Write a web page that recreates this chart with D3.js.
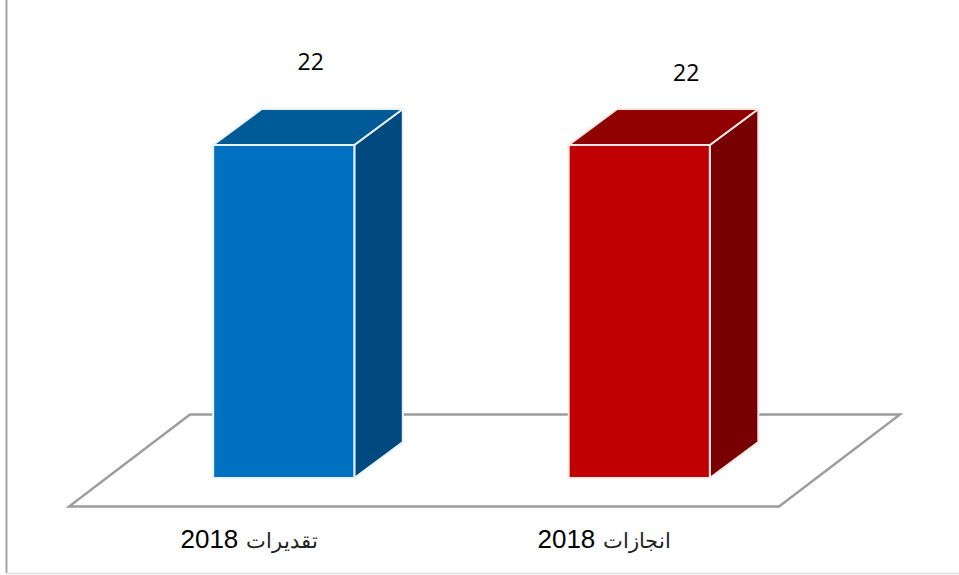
<!DOCTYPE html>
<html>
<head>
<meta charset="utf-8">
<script src="https://cdn.jsdelivr.net/npm/d3@7"></script>
<style>
  html, body { margin: 0; padding: 0; background: #fff; }
  svg { display: block; }
</style>
</head>
<body>
<div id="chart"></div>
<script>
const categories = ["تقديرات 2018", "انجازات 2018"];
const values = [22, 22];
const frontColors = ["#0070c0", "#c00000"];
const topColors = ["#005a96", "#900000"];
const sideColors = ["#004a80", "#780000"];
const edgeColors = ["#eaf2f9", "#f8e8e8"];

const width = 959;
const height = 575;

// oblique offset of the bar depth and the floor depth
const depth = { x: 48.5, y: -36 };
const floorDepth = { x: 121, y: -92 };
const floorY = 506.5;
// the labels do not sit at the same place above the bars
const labelShift = [{ x: 27, y: -84 }, { x: 47, y: -73 }];

const svg = d3.select("#chart")
    .append("svg")
    .attr("width", width)
    .attr("height", height);

const x = d3.scaleBand()
    .domain(categories)
    .range([106, 817])
    .paddingInner(0.603)
    .paddingOuter(0.3015);

const y = d3.scaleLinear()
    .domain([0, 22])
    .range([478, 145]);

// scale of the axis, runs along the front edge of the floor
const xFloor = d3.scaleBand()
    .domain(categories)
    .range([69, 779]);

// chart frame
svg.append("path")
    .attr("d", d3.line()([[6.5, 0], [6.5, 573.5]]))
    .attr("fill", "none")
    .attr("stroke", "#a6a6a6")
    .attr("stroke-width", 2);

svg.append("path")
    .attr("d", d3.line()([[6.5, 573.5], [959, 573.5]]))
    .attr("fill", "none")
    .attr("stroke", "#e6e6e6")
    .attr("stroke-width", 2);

// floor
svg.append("path")
    .attr("d", d3.line()([
        [69, floorY],
        [779, floorY],
        [779 + floorDepth.x, floorY + floorDepth.y],
        [69 + floorDepth.x, floorY + floorDepth.y]
    ]) + "Z")
    .attr("fill", "#fff")
    .attr("stroke", "#9c9c9c")
    .attr("stroke-width", 2.4);

const bars = svg.append("g")
    .selectAll("g")
    .data(values)
    .join("g")
    .attr("stroke-width", 2)
    .attr("stroke-linejoin", "round");

bars.append("path")
    .attr("fill", (d, i) => sideColors[i])
    .attr("stroke", (d, i) => edgeColors[i])
    .attr("d", (d, i) => {
        const r = x(categories[i]) + x.bandwidth();
        return d3.line()([
            [r, y(d)],
            [r + depth.x, y(d) + depth.y],
            [r + depth.x, y(0) + depth.y],
            [r, y(0)]
        ]) + "Z";
    });

bars.append("path")
    .attr("fill", (d, i) => topColors[i])
    .attr("stroke", (d, i) => edgeColors[i])
    .attr("d", (d, i) => {
        const l = x(categories[i]);
        const r = l + x.bandwidth();
        return d3.line()([
            [l, y(d)],
            [l + depth.x, y(d) + depth.y],
            [r + depth.x, y(d) + depth.y],
            [r, y(d)]
        ]) + "Z";
    });

bars.append("rect")
    .attr("x", (d, i) => x(categories[i]))
    .attr("y", (d) => y(d))
    .attr("width", x.bandwidth())
    .attr("height", (d) => y(0) - y(d))
    .attr("fill", (d, i) => frontColors[i])
    .attr("stroke", (d, i) => edgeColors[i]);

// value labels
svg.append("g")
    .selectAll("text")
    .data(values)
    .join("text")
    .attr("x", (d, i) => x(categories[i]) + x.bandwidth() / 2 + labelShift[i].x)
    .attr("y", (d, i) => y(d) + labelShift[i].y)
    .attr("text-anchor", "middle")
    .attr("dominant-baseline", "central")
    .attr("font-family", "'Open Sans', sans-serif")
    .attr("font-size", 23)
    .attr("fill", "#000")
    .text((d) => d);

// category axis
const axis = svg.append("g")
    .attr("transform", `translate(2.5, ${floorY})`)
    .call(d3.axisBottom(xFloor).tickSize(0).tickPadding(23));

axis.select(".domain").remove();

// arabic word is drawn smaller than the year in the reference
axis.selectAll("text")
    .attr("font-family", "'Liberation Sans', Arial, sans-serif")
    .attr("font-size", 26)
    .attr("fill", "#000")
    .each(function (d) {
        const parts = d.split(" ");
        const label = d3.select(this).text(null);
        label.append("tspan").attr("font-size", 21).attr("fill", "#222").text(parts[0]);
        label.append("tspan").text(" " + parts[1]);
    });
</script>
</body>
</html>
